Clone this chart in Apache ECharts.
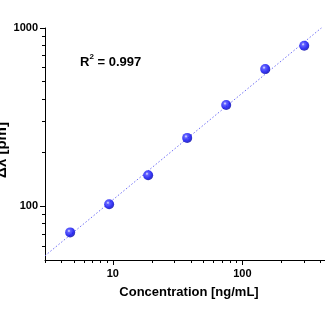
<!DOCTYPE html>
<html>
<head>
<meta charset="utf-8">
<script src="https://cdn.jsdelivr.net/npm/echarts@6/dist/echarts.min.js"></script>
<style>
  html, body { margin: 0; padding: 0; background: #fff; }
  #chart { width: 325px; height: 324px; }
</style>
</head>
<body>
<div id="chart"></div>
<script>
// Calibration: concentration vs. resonance shift
const concentration = [4.69, 9.375, 18.75, 37.5, 75, 150, 300];
const shift = [71.4, 102.6, 149.3, 242, 370, 588, 795];

const xRange = [3, 500];
const yRange = [50, 1000];
const xMajorTicks = [10, 100];
const xMinorTicks = [3, 4, 5, 6, 7, 8, 9, 20, 30, 40, 50, 60, 70, 80, 90, 200, 300, 400, 500];
const yMajorTicks = [100, 1000];
const yMinorTicks = [60, 70, 80, 90, 200, 300, 400, 500, 600, 700, 800, 900];
const r2Text = '0.997';

// Power-law fit: least squares in log-log space
const lx = concentration.map(Math.log10);
const ly = shift.map(Math.log10);
const mx = lx.reduce((a, b) => a + b, 0) / lx.length;
const my = ly.reduce((a, b) => a + b, 0) / ly.length;
let sxy = 0, sxx = 0;
for (let i = 0; i < lx.length; i++) {
  sxy += (lx[i] - mx) * (ly[i] - my);
  sxx += (lx[i] - mx) * (lx[i] - mx);
}
const slope = sxy / sxx;
const fitAt = x => Math.pow(10, my + slope * (Math.log10(x) - mx));
const fitLine = xRange.map(x => [x, fitAt(x)]);

const font = 'Arial, "Liberation Sans", Helvetica, sans-serif';
const labelStyle = {
  color: '#000', fontWeight: 'bold', fontSize: 11, fontFamily: font,
  formatter: v => String(Math.round(v))
};

const chart = echarts.init(document.getElementById('chart'), null, { renderer: 'canvas' });
chart.setOption({
  animation: false,
  backgroundColor: '#fff',
  grid: { left: 45, right: -8, top: 28, bottom: 64, containLabel: false, outerBoundsMode: 'none' },
  xAxis: [
    {
      type: 'log', logBase: 10, min: xRange[0], max: xRange[1],
      name: 'Concentration [ng/mL]', nameLocation: 'middle', nameGap: 26, nameMoveOverlap: false,
      nameTextStyle: { color: '#000', fontWeight: 'bold', fontSize: 13, fontFamily: font },
      axisLine: { show: true, lineStyle: { color: '#000', width: 1 } },
      axisTick: { show: true, length: 5, customValues: xMajorTicks, lineStyle: { color: '#000' } },
      axisLabel: Object.assign({ customValues: xMajorTicks, margin: 8 }, labelStyle),
      splitLine: { show: false }
    },
    {
      type: 'log', logBase: 10, min: xRange[0], max: xRange[1], position: 'bottom',
      axisLine: { show: false },
      axisTick: { show: true, length: 3, customValues: xMinorTicks, lineStyle: { color: '#000' } },
      axisLabel: { show: false },
      splitLine: { show: false }
    }
  ],
  yAxis: [
    {
      type: 'log', logBase: 10, min: yRange[0], max: yRange[1],
      name: 'Δλ [pm]', nameLocation: 'middle', nameGap: 36, nameRotate: 90, nameMoveOverlap: false,
      nameTextStyle: { color: '#000', fontWeight: 'bold', fontSize: 15, fontFamily: font, padding: [0, 12, 0, 0] },
      axisLine: { show: true, lineStyle: { color: '#000', width: 1 } },
      axisTick: { show: true, length: 5, customValues: yMajorTicks, lineStyle: { color: '#000' } },
      axisLabel: Object.assign({ customValues: yMajorTicks, margin: 7 }, labelStyle),
      splitLine: { show: false }
    },
    {
      type: 'log', logBase: 10, min: yRange[0], max: yRange[1], position: 'left',
      axisLine: { show: false },
      axisTick: { show: true, length: 3, customValues: yMinorTicks, lineStyle: { color: '#000' } },
      axisLabel: { show: false },
      splitLine: { show: false }
    }
  ],
  series: [
    {
      type: 'line',
      xAxisIndex: 0, yAxisIndex: 0,
      data: fitLine,
      showSymbol: false,
      clip: true,
      lineStyle: { color: '#6f6ff5', width: 1, type: [1.5, 2] },
      z: 2
    },
    {
      type: 'scatter',
      xAxisIndex: 0, yAxisIndex: 0,
      data: concentration.map((c, i) => [c, shift[i]]),
      symbol: 'circle',
      symbolSize: 10,
      itemStyle: {
        color: {
          type: 'radial', x: 0.38, y: 0.35, r: 0.65,
          colorStops: [
            { offset: 0, color: '#e8e8ff' },
            { offset: 0.25, color: '#3a3aff' },
            { offset: 0.7, color: '#0000f0' },
            { offset: 1, color: '#0000a8' }
          ]
        }
      },
      z: 3
    }
  ],
  graphic: [
    {
      type: 'text', left: 80, top: 53,
      style: {
        text: '{b|R}{s|2}{b| = ' + r2Text + '}',
        rich: {
          b: { fontSize: 13, fontWeight: 'bold', fontFamily: font, fill: '#000', verticalAlign: 'bottom', lineHeight: 16 },
          s: { fontSize: 8, fontWeight: 'bold', fontFamily: font, fill: '#000', verticalAlign: 'top', lineHeight: 16, padding: [0, 0, 6, 0] }
        }
      }
    }
  ]
});
</script>
</body>
</html>
